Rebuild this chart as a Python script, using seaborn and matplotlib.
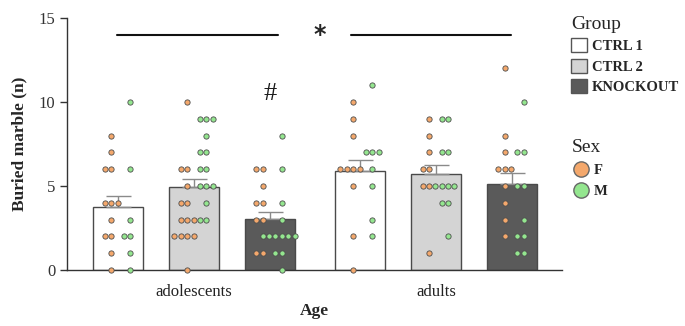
import pandas as pd
import matplotlib
matplotlib.use('Agg')
import matplotlib.pyplot as plt
import matplotlib.transforms as mtransforms
from matplotlib.patches import Patch
from matplotlib.lines import Line2D
import seaborn as sns

# data (marbles buried per animal)
ages = ['adolescents', 'adults']
groups = ['CTRL 1', 'CTRL 2', 'KNOCKOUT']

adol_ctrl1_f = [8, 7, 6, 6, 4, 4, 4, 3, 2, 2, 1, 0]
adol_ctrl1_m = [10, 6, 3, 2, 2, 1, 0]
adol_ctrl2_f = [10, 6, 6, 5, 4, 4, 3, 3, 3, 2, 2, 2, 2, 0]
adol_ctrl2_m = [9, 9, 9, 8, 7, 7, 6, 6, 5, 5, 5, 4, 3, 3]
adol_ko_f = [6, 6, 5, 4, 4, 3, 3, 2, 1, 1]
adol_ko_m = [8, 6, 4, 3, 2, 2, 2, 2, 2, 2, 1, 1, 0]

adult_ctrl1_f = [10, 9, 8, 6, 6, 6, 6, 5, 2, 0]
adult_ctrl1_m = [11, 7, 7, 7, 6, 5, 3, 2]
adult_ctrl2_f = [9, 8, 7, 6, 6, 5, 5, 1]
adult_ctrl2_m = [9, 9, 7, 7, 5, 5, 5, 5, 4, 4, 2]
adult_ko_f = [12, 8, 7, 6, 6, 6, 5, 4, 3, 2]
adult_ko_m = [10, 7, 7, 5, 5, 3, 2, 2, 1, 1]

buried = {
    ('adolescents', 'CTRL 1', 'F'): adol_ctrl1_f,
    ('adolescents', 'CTRL 1', 'M'): adol_ctrl1_m,
    ('adolescents', 'CTRL 2', 'F'): adol_ctrl2_f,
    ('adolescents', 'CTRL 2', 'M'): adol_ctrl2_m,
    ('adolescents', 'KNOCKOUT', 'F'): adol_ko_f,
    ('adolescents', 'KNOCKOUT', 'M'): adol_ko_m,
    ('adults', 'CTRL 1', 'F'): adult_ctrl1_f,
    ('adults', 'CTRL 1', 'M'): adult_ctrl1_m,
    ('adults', 'CTRL 2', 'F'): adult_ctrl2_f,
    ('adults', 'CTRL 2', 'M'): adult_ctrl2_m,
    ('adults', 'KNOCKOUT', 'F'): adult_ko_f,
    ('adults', 'KNOCKOUT', 'M'): adult_ko_m,
}

rows = []
for (age, group, sex), vals in buried.items():
    for v in vals:
        rows.append((age, group, sex, v))
df = pd.DataFrame(rows, columns=['Age', 'Group', 'Sex', 'Buried'])

bar_colors = {'CTRL 1': '#ffffff', 'CTRL 2': '#d4d4d4', 'KNOCKOUT': '#5a5a5a'}
sex_colors = {'F': '#f4a86c', 'M': '#94e68f'}
# horizontal nudges (pixels) of the dot columns inside each bar
sex_shift = {'F': -7, 'M': 12}
dodge_w = 0.94

sns.set_style('ticks')
plt.rcParams['font.family'] = ['Liberation Serif', 'DejaVu Serif']

fig = plt.figure(figsize=(6.85, 3.26), dpi=100)
ax = fig.add_axes([0.098, 0.172, 0.722, 0.773])

sns.barplot(data=df, x='Age', y='Buried', hue='Group', order=ages, hue_order=groups,
            palette=bar_colors, errorbar=None, width=dodge_w, gap=0.34,
            edgecolor='#4a4a4a', linewidth=1, legend=False, ax=ax, zorder=1)

# SEM, upper half only
stats = df.groupby(['Age', 'Group'])['Buried'].agg(['mean', 'sem'])
step = dodge_w / len(groups)
for i, age in enumerate(ages):
    for j, group in enumerate(groups):
        m, s = stats.loc[(age, group)]
        ax.errorbar(i + (j - 1) * step, m, yerr=[[0], [s]], fmt='none',
                    ecolor='#8a8a8a', elinewidth=1, capsize=9, capthick=1, zorder=2)

# dots, one swarm per group and sex
for j, group in enumerate(groups):
    for sex in ['F', 'M']:
        sub = df[(df.Group == group) & (df.Sex == sex)]
        n0 = len(ax.collections)
        sns.swarmplot(data=sub, x='Age', y='Buried', order=ages, color=sex_colors[sex],
                      size=3.8, edgecolor='#4d4d4d', linewidth=0.6, ax=ax,
                      clip_on=False, zorder=4, warn_thresh=1)
        tr = (mtransforms.Affine2D().translate((j - 1) * step, 0) + ax.transData
              + mtransforms.Affine2D().translate(sex_shift[sex], 0))
        for coll in ax.collections[n0:]:
            coll.set_offset_transform(tr)

ax.set_ylim(0, 15)
ax.set_xlim(-0.525, 1.52)
ax.set_yticks([0, 5, 10, 15])
ax.tick_params(axis='y', labelsize=12, length=5, width=1, colors='#333333')
ax.tick_params(axis='x', length=0, labelsize=12, pad=10, colors='#222222')
ax.set_ylabel('Buried marble (n)', fontsize=12.5, fontweight='bold', labelpad=8)
ax.set_xlabel('Age', fontsize=12.5, fontweight='bold', labelpad=2)
sns.despine(ax=ax)
for sp in ['left', 'bottom']:
    ax.spines[sp].set_color('#333333')
    ax.spines[sp].set_linewidth(1)

# significance marks
ax.plot([-0.32, 0.345], [14, 14], color='#111111', lw=1.5, clip_on=False)
ax.plot([0.65, 1.31], [14, 14], color='#111111', lw=1.5, clip_on=False)
ax.text(0.52, 14, '*', ha='center', va='center', fontsize=17, fontweight='bold',
        family='DejaVu Sans')
ax.text(step, 10.5, '#', ha='center', va='center', fontsize=19, color='#1a1a1a')

group_handles = [Patch(facecolor=bar_colors[g], edgecolor='#555555', label=g) for g in groups]
leg1 = ax.legend(handles=group_handles, title='Group', loc='upper left',
                 bbox_to_anchor=(0.815, 0.99), bbox_transform=fig.transFigure,
                 frameon=False, prop={'weight': 'bold', 'size': 10.5},
                 title_fontsize=14, handlelength=1.1, handleheight=1.1,
                 handletextpad=0.3, labelspacing=0.35, alignment='left')
ax.add_artist(leg1)
sex_handles = [Line2D([], [], marker='o', ls='none', markersize=11,
                      markerfacecolor=sex_colors[s], markeredgecolor='#666666',
                      label=s) for s in ['F', 'M']]
ax.legend(handles=sex_handles, title='Sex', loc='upper left',
          bbox_to_anchor=(0.815, 0.615), bbox_transform=fig.transFigure,
          frameon=False, prop={'weight': 'bold', 'size': 10.5},
          title_fontsize=14, handlelength=1.3, handletextpad=0.2,
          labelspacing=0.55, alignment='left')

fig.savefig('out.png', dpi=100)
